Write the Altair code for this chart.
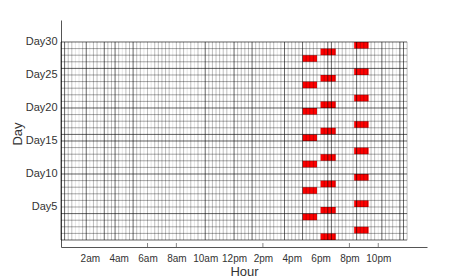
import altair as alt
import pandas as pd

# ---- data ----
days_a = [3, 7, 11, 15, 19, 23, 27]          # bars at 4:45pm-5:45pm
days_b = [0, 4, 8, 12, 16, 20, 24, 28]       # bars at 6pm-7pm
days_c = [1, 5, 9, 13, 17, 21, 25, 29]       # bars at 8:20pm-9:20pm
start_a, end_a = 16.75, 17.75
start_b, end_b = 18.0, 19.05
start_c, end_c = 20.33, 21.33

# vertical grid lines every quarter hour: D=dark, M=mid, L=light
vgrid_levels = list(
    "DDMMLLMDLMMLDMMDMLMMDMMLMLMMMMMLM"
    "MMLMLMLDMMMMMMLDMMMMDMMMMMMLMDMM"
    "MMDMMMMLMDDMMMMLMDMMMMMLDMMMLDDM"
)
# horizontal grid lines per day 0..30
hgrid_dark_days = [0, 4, 10, 15, 16, 20, 26, 30]
n_days = 30

hour_ticks = [2, 4, 6, 8, 10, 12, 14, 16, 18, 20, 22]
hour_labels = ["2am", "4am", "6am", "8am", "10am", "12pm", "2pm", "4pm", "6pm", "8pm", "10pm"]
hour_tickmarks = [6, 8, 14, 20, 22]
day_ticks = [5, 10, 15, 20, 25, 30]

level_op = {"D": 0.6, "M": 0.26, "L": 0.1}

bars = pd.DataFrame(
    [{"x": start_a, "x2": end_a, "y": d, "y2": d + 1} for d in days_a]
    + [{"x": start_b, "x2": end_b, "y": d, "y2": d + 1} for d in days_b]
    + [{"x": start_c, "x2": end_c, "y": d, "y2": d + 1} for d in days_c]
)
vgrid = pd.DataFrame({"x": [k * 0.25 for k in range(len(vgrid_levels))],
                      "op": [level_op[c] for c in vgrid_levels]})
hgrid = pd.DataFrame({"y": list(range(n_days + 1)),
                      "op": [0.62 if d in hgrid_dark_days else 0.35 for d in range(n_days + 1)]})
ticks = pd.DataFrame({"x": hour_tickmarks})

label_expr = " : ".join(
    [f"datum.value == {v} ? '{l}'" for v, l in zip(hour_ticks, hour_labels)]
) + " : ''"

FONT = "Liberation Sans"
xscale = alt.Scale(domain=[0, 25.38], nice=False, zero=False)
yscale = alt.Scale(domain=[-1.06, 33.33], nice=False, zero=False)
xaxis = alt.Axis(title="Hour", values=hour_ticks, tickCount=30, labelExpr=label_expr, ticks=False,
                 grid=False, labelPadding=6, titlePadding=2, domainColor="#555",
                 labelOverlap=False, labelFlush=False, labelBound=False,
                 labelFont=FONT, labelFontSize=10, labelColor="#333",
                 titleFont=FONT, titleFontSize=13, titleFontWeight="normal", titleColor="#333")
yaxis = alt.Axis(title="Day", values=day_ticks, tickCount=30, labelExpr="'Day' + datum.value", ticks=False,
                 grid=False, labelPadding=4, titlePadding=1, domainColor="#555",
                 labelOverlap=False, labelFlush=False,
                 labelFont=FONT, labelFontSize=11, labelColor="#333",
                 titleFont=FONT, titleFontSize=13, titleFontWeight="normal", titleColor="#333")

bar_layer = alt.Chart(bars).mark_rect(color="#ff0000").encode(
    x=alt.X("x:Q", scale=xscale, axis=xaxis),
    x2="x2:Q",
    y=alt.Y("y:Q", scale=yscale, axis=yaxis),
    y2="y2:Q",
)
v_layer = alt.Chart(vgrid).mark_rule(color="black", strokeWidth=1).encode(
    x=alt.X("x:Q", scale=xscale, axis=xaxis),
    y=alt.datum(0, scale=yscale),
    y2=alt.datum(n_days),
    opacity=alt.Opacity("op:Q", scale=None, legend=None),
)
h_layer = alt.Chart(hgrid).mark_rule(color="black", strokeWidth=1).encode(
    y=alt.Y("y:Q", scale=yscale, axis=yaxis),
    x=alt.datum(0, scale=xscale),
    x2=alt.datum(24),
    opacity=alt.Opacity("op:Q", scale=None, legend=None),
)
tick_layer = alt.Chart(ticks).mark_rule(color="#888", strokeWidth=1).encode(
    x=alt.X("x:Q", scale=xscale, axis=xaxis),
    y=alt.value(223),
    y2=alt.value(227),
)

chart = alt.layer(bar_layer, v_layer, h_layer, tick_layer).properties(
    width=366, height=227,
    autosize=alt.AutoSizeParams(type="none"),
    padding={"left": 53, "top": 12, "right": 20, "bottom": 32},
).configure_view(stroke=None).configure_axis(labelOverlap=False)

chart.save("out.html", embed_options={"renderer": "svg", "actions": False})
